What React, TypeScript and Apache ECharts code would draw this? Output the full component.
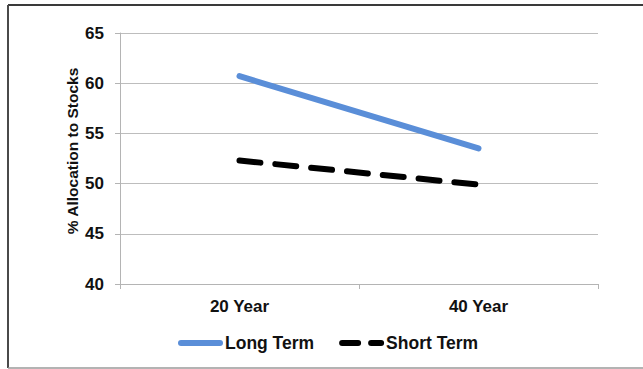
import React, { useEffect, useRef } from "react";
import * as echarts from "echarts";

// Horizons on the category axis
const horizons = ["20 Year", "40 Year"];
// Allocation to stocks (%) for each investor type
const longTerm = [60.7, 53.5];
const shortTerm = [52.3, 49.9];
// Value axis range
const yMin = 40;
const yMax = 65;
const yStep = 5;
const yTitle = "% Allocation to Stocks";

const FONT = "'Liberation Sans', Arial, Helvetica, sans-serif";

export default function App() {
  const ref = useRef<HTMLDivElement>(null);

  useEffect(() => {
    if (!ref.current) return;
    const chart = echarts.init(ref.current, undefined, { renderer: "svg" });
    chart.setOption({
      animation: false,
      backgroundColor: "#ffffff",
      textStyle: { fontFamily: FONT },
      graphic: [
        { type: "line", shape: { x1: 8, y1: 5, x2: 643, y2: 5 }, style: { stroke: "#3a3a3a", lineWidth: 2 } },
        { type: "line", shape: { x1: 8, y1: 5, x2: 8, y2: 368 }, style: { stroke: "#4a4a4a", lineWidth: 2 } },
        { type: "line", shape: { x1: 8, y1: 368, x2: 643, y2: 368 }, style: { stroke: "#9a9a9a", lineWidth: 1.5 } },
        {
          type: "text",
          x: 72,
          y: 151,
          rotation: Math.PI / 2,
          style: {
            text: yTitle,
            fill: "#111",
            font: `bold 15.5px ${FONT}`,
            align: "center",
            verticalAlign: "middle",
          },
        },
      ],
      grid: { left: 120, top: 33, width: 478, height: 251, containLabel: false },
      xAxis: {
        type: "category",
        data: horizons,
        boundaryGap: true,
        axisLine: { lineStyle: { color: "#b4b4b4", width: 1 } },
        axisTick: { show: true, length: 5, lineStyle: { color: "#b4b4b4" } },
        axisLabel: { color: "#111", fontWeight: "bold", fontSize: 17, margin: 14, fontFamily: FONT },
      },
      yAxis: {
        type: "value",
        min: yMin,
        max: yMax,
        interval: yStep,
        axisLine: { show: true, lineStyle: { color: "#b4b4b4", width: 1 } },
        axisTick: { show: true, length: 5, lineStyle: { color: "#b4b4b4" } },
        axisLabel: { color: "#111", fontWeight: "bold", fontSize: 17, margin: 16, fontFamily: FONT },
        splitLine: { show: true, lineStyle: { color: "#bdbdbd", width: 1 } },
      },
      legend: {
        left: 178,
        top: 334,
        padding: 0,
        itemWidth: 39,
        itemHeight: 14,
        itemGap: 25,
        itemStyle: { color: "rgba(0,0,0,0)", borderWidth: 0, opacity: 0 },
        lineStyle: { width: 6, cap: "round" },
        textStyle: { color: "#111", fontWeight: "bold", fontSize: 17.5, fontFamily: FONT },
        data: [
          { name: "Long Term" },
          { name: "Short Term", lineStyle: { width: 6, cap: "round", type: [16, 13] } },
        ],
      },
      series: [
        {
          name: "Long Term",
          type: "line",
          data: longTerm,
          symbol: "none",
          color: "#5a8ed8",
          lineStyle: { color: "#5a8ed8", width: 6, cap: "round" },
        },
        {
          name: "Short Term",
          type: "line",
          data: shortTerm,
          symbol: "none",
          color: "#000000",
          lineStyle: { color: "#000000", width: 6, type: [21, 15], cap: "round" },
        },
      ],
    });
    return () => chart.dispose();
  }, []);

  return (
    <div style={{ position: "absolute", left: 0, top: 0, width: 643, height: 369 }}>
      <div ref={ref} style={{ width: 643, height: 369 }} />
    </div>
  );
}
